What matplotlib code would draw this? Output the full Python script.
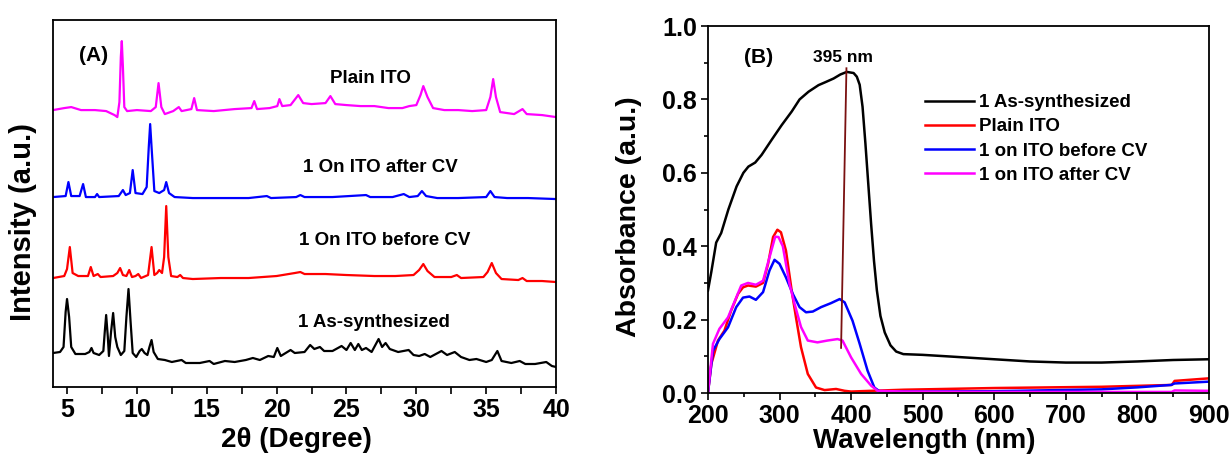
import numpy as np
import matplotlib.pyplot as plt
from matplotlib.ticker import MultipleLocator

plt.rcParams['font.family'] = ['Liberation Sans', 'DejaVu Sans']
plt.rcParams['font.weight'] = 'bold'

# ---------------- (A) XRD patterns (offset intensity, arbitrary units) ----------------
plain_ito = [(4.0, 277), (4.8, 279), (5.3, 280), (6.0, 277), (7.0, 277), (7.8, 276), (8.4, 272), (8.6, 270),
             (8.75, 285), (8.85, 330), (8.92, 346), (9.0, 320), (9.1, 280), (9.3, 276), (10.0, 277), (11.0, 276),
             (11.35, 280), (11.55, 304), (11.75, 280), (12.0, 273), (12.6, 276), (13.0, 280), (13.2, 276),
             (13.9, 278), (14.1, 289), (14.3, 277), (15.5, 276), (17.0, 278), (18.2, 279), (18.4, 286),
             (18.6, 278), (19.5, 279), (20.05, 281), (20.2, 288), (20.4, 281), (21.0, 282), (21.55, 292),
             (21.9, 284), (22.5, 283), (23.5, 284), (23.85, 291), (24.2, 283), (25.0, 282), (26.0, 281),
             (27.0, 281), (28.0, 279), (29.0, 279), (29.5, 281), (30.0, 282), (30.3, 292), (30.5, 301),
             (30.8, 290), (31.2, 279), (32.0, 277), (33.0, 277), (34.0, 276), (35.0, 277), (35.3, 290),
             (35.5, 308), (35.7, 290), (36.0, 275), (37.0, 273), (37.6, 278), (37.9, 273), (39.0, 272), (40.0, 270)]

after_cv = [(4.0, 190), (4.9, 191), (5.1, 205), (5.3, 191), (5.9, 191), (6.15, 203), (6.35, 190), (7.0, 190),
            (7.15, 193), (7.3, 190), (8.7, 191), (9.0, 197), (9.2, 192), (9.5, 194), (9.7, 217), (9.9, 194),
            (10.4, 193), (10.7, 200), (10.85, 240), (10.95, 263), (11.05, 240), (11.25, 196), (11.6, 194),
            (11.95, 197), (12.1, 205), (12.3, 194), (12.7, 190), (14.0, 189), (16.0, 189), (18.0, 189),
            (19.3, 191), (19.6, 189), (21.4, 190), (21.7, 192), (22.0, 190), (24.0, 190), (26.4, 192),
            (26.7, 190), (28.3, 190), (29.1, 193), (29.5, 190), (30.1, 191), (30.4, 196), (30.7, 191),
            (31.5, 189), (33.0, 189), (35.0, 190), (35.3, 196), (35.6, 190), (36.5, 189), (38.0, 189), (40.0, 188)]

before_cv = [(4.0, 109), (4.8, 111), (5.0, 118), (5.2, 140), (5.4, 114), (5.8, 111), (6.5, 111), (6.7, 120),
             (6.9, 111), (7.2, 113), (7.4, 110), (8.3, 111), (8.6, 114), (8.8, 119), (9.0, 112), (9.25, 111),
             (9.45, 117), (9.65, 110), (9.9, 111), (10.1, 113), (10.3, 109), (10.8, 112), (11.05, 140),
             (11.25, 112), (11.45, 114), (11.6, 117), (11.8, 114), (11.95, 130), (12.1, 181), (12.25, 130),
             (12.45, 111), (12.9, 110), (13.1, 112), (13.3, 109), (14.0, 108), (16.0, 109), (18.0, 109),
             (20.0, 111), (21.3, 114), (21.7, 115), (22.0, 113), (23.5, 113), (25.0, 112), (27.0, 111),
             (28.5, 111), (29.8, 112), (30.2, 117), (30.5, 123), (30.8, 116), (31.3, 110), (32.5, 110),
             (32.9, 112), (33.2, 109), (34.8, 110), (35.1, 115), (35.4, 124), (35.7, 114), (36.1, 108),
             (37.3, 107), (37.6, 109), (37.9, 106), (39.0, 106), (40.0, 105)]

as_synth = [(4.0, 34), (4.5, 35), (4.75, 40), (4.9, 75), (5.0, 88), (5.15, 70), (5.3, 40), (5.6, 33), (6.3, 33),
            (6.6, 35), (6.75, 39), (6.9, 34), (7.3, 32), (7.6, 36), (7.7, 55), (7.8, 72), (7.92, 50), (8.0, 31),
            (8.15, 55), (8.3, 74), (8.45, 50), (8.6, 40), (8.85, 32), (9.1, 36), (9.25, 70), (9.4, 98),
            (9.55, 65), (9.7, 34), (9.95, 30), (10.2, 36), (10.35, 38), (10.55, 34), (10.75, 32), (10.9, 40),
            (11.05, 47), (11.2, 35), (11.5, 28), (12.0, 27), (12.5, 25), (13.2, 27), (13.5, 24), (14.5, 24),
            (15.2, 26), (15.5, 23), (16.3, 26), (17.0, 25), (17.8, 27), (18.3, 29), (18.8, 27), (19.4, 31),
            (19.8, 30), (20.05, 39), (20.3, 31), (21.0, 37), (21.3, 34), (22.0, 35), (22.4, 42), (22.7, 38),
            (23.1, 40), (23.4, 36), (24.0, 36), (24.65, 41), (25.0, 37), (25.3, 44), (25.6, 37), (25.85, 43),
            (26.1, 37), (26.4, 39), (26.8, 35), (27.3, 48), (27.55, 40), (27.8, 44), (28.1, 38), (28.7, 35),
            (29.45, 37), (29.8, 32), (30.2, 31), (30.6, 33), (31.0, 30), (31.8, 36), (32.2, 32), (32.75, 35),
            (33.2, 30), (33.8, 27), (34.3, 28), (35.0, 25), (35.4, 27), (35.8, 36), (36.1, 26), (36.8, 24),
            (37.4, 26), (37.8, 23), (38.5, 23), (39.3, 25), (39.7, 21), (40.0, 20)]

xrd_series = [("Plain ITO", plain_ito, "#ff00ff", 26.7, 309),
              ("1 On ITO after CV", after_cv, "#0000ff", 27.45, 220),
              ("1 On ITO before CV", before_cv, "#ff0000", 27.7, 147),
              ("1 As-synthesized", as_synth, "#000000", 26.95, 65)]

# ---------------- (B) UV-vis absorbance ----------------
uv_black = [(200, 0.279), (204.7, 0.33), (211.5, 0.41), (218.5, 0.436), (228.5, 0.50), (240, 0.563),
            (249.5, 0.60), (256.5, 0.617), (266, 0.628), (275, 0.649), (289, 0.69), (303, 0.73), (317, 0.767),
            (328, 0.80), (340.5, 0.821), (354.5, 0.839), (364, 0.847), (375.5, 0.857), (385, 0.868),
            (394, 0.875), (403.5, 0.872), (408, 0.862), (412, 0.84), (416, 0.78), (420, 0.68), (424, 0.57),
            (428, 0.46), (432, 0.36), (436, 0.28), (441, 0.21), (447, 0.165), (455, 0.13), (463, 0.113),
            (473, 0.106), (500, 0.104), (534, 0.10), (600, 0.092), (650, 0.086), (700, 0.083), (750, 0.083),
            (800, 0.086), (850, 0.09), (900, 0.092)]

uv_red = [(200, 0.0), (204.7, 0.079), (214, 0.143), (223, 0.17), (232.5, 0.225), (242, 0.27), (249, 0.288),
          (256, 0.293), (267, 0.29), (277, 0.30), (284, 0.352), (291, 0.425), (297, 0.445), (302, 0.438),
          (309, 0.388), (317, 0.279), (323, 0.206), (330, 0.125), (339.5, 0.052), (351, 0.015), (363, 0.008),
          (379, 0.011), (391, 0.006), (400, 0.004), (428, 0.006), (474, 0.009), (600, 0.0136), (750, 0.017),
          (848, 0.022), (852, 0.033), (900, 0.04)]

uv_blue = [(200, 0.0), (207, 0.115), (216, 0.147), (228, 0.179), (239.5, 0.234), (249, 0.26), (258, 0.263),
           (267, 0.254), (277, 0.275), (286, 0.334), (293, 0.363), (300, 0.352), (309, 0.315), (318.6, 0.27),
           (328, 0.234), (337, 0.22), (346.5, 0.222), (358, 0.234), (372, 0.245), (384, 0.256), (391, 0.247),
           (402, 0.197), (412, 0.134), (423, 0.061), (432.5, 0.015), (439.5, 0.005), (474, 0.004),
           (600, 0.005), (750, 0.01), (800, 0.0154), (847, 0.022), (852, 0.026), (900, 0.031)]

uv_magenta = [(200, 0.0), (207, 0.134), (216, 0.175), (228, 0.206), (239.5, 0.26), (246.5, 0.293), (256, 0.30),
              (267, 0.295), (277, 0.306), (286, 0.37), (294, 0.426), (298.6, 0.425), (304.6, 0.40), (314, 0.297),
              (321, 0.243), (330, 0.18), (339.5, 0.143), (353, 0.138), (367, 0.143), (381, 0.147), (388, 0.143),
              (400, 0.097), (414, 0.052), (428, 0.02), (437, 0.006), (474, 0.004), (600, 0.003), (848, 0.003),
              (852, 0.007), (900, 0.006)]

uv_series = [("1 As-synthesized", uv_black, "#000000"),
             ("Plain ITO", uv_red, "#ff0000"),
             ("1 on ITO before CV", uv_blue, "#0000ff"),
             ("1 on ITO after CV", uv_magenta, "#ff00ff")]

peak_line = [(386, 0.123), (393.5, 0.885)]

fig = plt.figure(figsize=(12.31, 4.57), dpi=100)
ax1 = fig.add_axes([0.0431, 0.1532, 0.4086, 0.8028])
ax2 = fig.add_axes([0.5751, 0.140, 0.4070, 0.803])

# panel A
for label, pts, color, tx, ty in xrd_series:
    x, y = np.array(pts).T
    ax1.plot(x, y, color=color, lw=1.6)
    ax1.text(tx, ty, label, ha='center', va='center', fontsize=13.5, fontweight='bold')
ax1.text(6.9, 332, "(A)", ha='center', va='center', fontsize=15, fontweight='bold')
ax1.set_xlim(4, 40)
ax1.set_ylim(0, 367)
ax1.set_yticks([])
ax1.xaxis.set_major_locator(MultipleLocator(5))
ax1.xaxis.set_minor_locator(MultipleLocator(2.5))
ax1.tick_params(axis='x', which='major', labelsize=18, length=5, width=1.2, pad=3)
ax1.tick_params(axis='x', which='minor', length=5, width=1.2)
ax1.set_xlabel("2θ (Degree)", fontsize=20, fontweight='bold')
ax1.set_ylabel("Intensity (a.u.)", fontsize=21, fontweight='bold')
ax1.xaxis.set_label_coords(0.483, -0.11)
ax1.yaxis.set_label_coords(-0.032, 0.45)

# panel B
for label, pts, color in uv_series:
    x, y = np.array(pts).T
    ax2.plot(x, y, color=color, lw=1.8, label=label)
px, py = np.array(peak_line).T
ax2.plot(px, py, color='#7a1010', lw=1.3)
ax2.text(389, 0.913, "395 nm", ha='center', va='center', fontsize=12.5, fontweight='bold')
ax2.text(271, 0.915, "(B)", ha='center', va='center', fontsize=15, fontweight='bold')
ax2.set_xlim(200, 900)
ax2.set_ylim(0, 1.0)
ax2.xaxis.set_major_locator(MultipleLocator(100))
ax2.xaxis.set_minor_locator(MultipleLocator(50))
ax2.yaxis.set_major_locator(MultipleLocator(0.2))
ax2.yaxis.set_minor_locator(MultipleLocator(0.1))
ax2.tick_params(which='major', labelsize=18, length=5, width=1.2, pad=3)
ax2.tick_params(which='minor', length=3, width=1.2)
ax2.set_xlabel("Wavelength (nm)", fontsize=20, fontweight='bold')
ax2.set_ylabel("Absorbance (a.u.)", fontsize=20.5, fontweight='bold')
ax2.xaxis.set_label_coords(0.431, -0.095)
ax2.yaxis.set_label_coords(-0.132, 0.48)
ax2.legend(loc='upper left', bbox_to_anchor=(0.433, 0.815), frameon=False,
           handlelength=2.6, handletextpad=0.3, labelspacing=0.38, borderpad=0, borderaxespad=0,
           prop={'weight': 'bold', 'size': 13.5})

for ax in (ax1, ax2):
    for s in ax.spines.values():
        s.set_linewidth(1.3)
    for t in ax.get_xticklabels() + ax.get_yticklabels():
        t.set_fontweight('bold')

fig.savefig("out.png", dpi=100)
